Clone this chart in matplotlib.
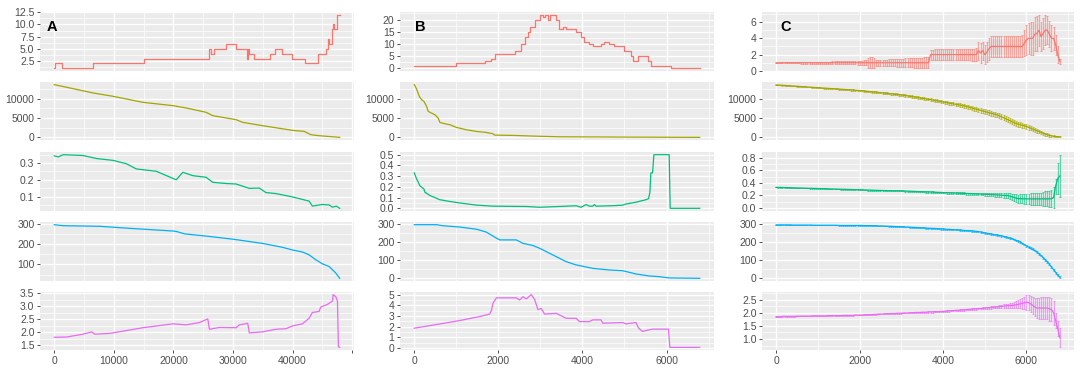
import numpy as np
import matplotlib.pyplot as plt

plt.rcParams['font.family'] = ['Liberation Sans', 'DejaVu Sans']

colors = ['#F8766D', '#A3A500', '#00BF7D', '#00B0F6', '#E76BF3']

# ---------------- panel A (x up to ~48000) ----------------
# red: step series (x where the value changes, value)
a_red_x = [0, 110, 1340, 6530, 15010, 25940, 26390, 26890, 28840, 30520, 32300, 32530,
           32750, 33590, 36210, 37040, 38220, 39890, 42120, 44350, 45690, 45910, 46140,
           46580, 46860, 47030, 47420, 47920]
a_red_y = [1, 2, 1, 2, 3, 5, 4, 5, 6, 5, 3, 5, 4, 3, 4, 5, 4, 3, 2, 4, 5, 7, 6, 9, 10, 9, 12, 12]

a_olive_x = [0, 6530, 9870, 14900, 19920, 22150, 25500, 26610, 30520, 31630, 34980, 40000,
             41950, 43070, 44460, 47920]
a_olive_y = [13620, 11470, 10600, 9050, 8190, 7590, 6470, 5600, 4570, 3880, 3020, 1810,
             1550, 690, 430, 0]

a_green_x = [0, 670, 1510, 4850, 7080, 9870, 12100, 13770, 17120, 20470, 21580, 23260,
             25490, 26610, 28840, 30520, 32750, 34420, 35530, 37200, 38320, 39990, 42780,
             43340, 44990, 46160, 46700, 47370, 47920]
a_green_y = [0.343, 0.337, 0.35, 0.345, 0.327, 0.316, 0.296, 0.265, 0.251, 0.20, 0.245,
             0.225, 0.215, 0.185, 0.178, 0.175, 0.149, 0.151, 0.124, 0.118, 0.11, 0.098,
             0.073, 0.043, 0.053, 0.05, 0.037, 0.043, 0.03]

a_blue_x = [0, 1510, 7640, 13220, 19920, 20470, 21860, 25490, 29960, 34980, 38320, 40000,
            41670, 42790, 43900, 45020, 46140, 47250, 47920]
a_blue_y = [295, 290, 287, 276, 264, 262, 250, 239, 224, 203, 184, 171, 161, 147, 123,
            103, 90, 58, 32]

a_mag_x = [0, 2060, 4850, 6250, 6810, 9320, 14900, 19920, 22150, 24380, 25770, 26050,
           27730, 30520, 31070, 32470, 32750, 34980, 37200, 38880, 39990, 41670, 42790,
           43340, 44460, 44730, 45850, 46700, 46810, 47260, 47540, 47700, 47920]
a_mag_y = [1.80, 1.81, 1.92, 2.01, 1.92, 1.95, 2.17, 2.32, 2.28, 2.37, 2.51, 2.11, 2.18,
           2.17, 2.28, 2.34, 1.97, 2.01, 2.11, 2.13, 2.24, 2.32, 2.54, 2.76, 2.80, 2.97,
           3.07, 3.20, 3.45, 3.37, 3.20, 1.43, 1.41]

# ---------------- panel B (x up to ~6800) ----------------
b_red_x = [0, 1004, 1676, 1834, 1913, 2387, 2545, 2624, 2703, 2759, 2862, 2980, 3059,
           3099, 3178, 3217, 3375, 3454, 3534, 3613, 3850, 3968, 4047, 4166, 4245, 4443,
           4522, 4640, 4759, 4996, 5154, 5210, 5312, 5549, 5628, 6103, 6790]
b_red_y = [1, 2, 3, 4, 6, 7, 10, 13, 15, 17, 20, 22, 21, 22, 20, 22, 20, 16, 17, 16, 15,
           13, 11, 10, 9, 10, 11, 10, 9, 7, 5, 3, 5, 3, 1, 0, 0]

b_olive_x = [0, 55, 119, 174, 229, 292, 332, 411, 490, 569, 609, 727, 846, 1004, 1241,
             1478, 1715, 1873, 1913, 2348, 2822, 3454, 5035, 6790]
b_olive_y = [13620, 12500, 10600, 9740, 9310, 8020, 6720, 6290, 5860, 5000, 3880, 3530,
             3280, 2590, 1980, 1550, 1290, 950, 600, 520, 350, 170, 90, 20]

b_green_x = [0, 55, 134, 229, 253, 372, 609, 846, 1083, 1478, 1873, 2664, 2980, 3454,
             3850, 3968, 4087, 4166, 4245, 4285, 4324, 4719, 4957, 5035, 5273, 5510, 5573,
             5605, 5628, 5668, 5700, 6063, 6087, 6790]
b_green_y = [0.33, 0.275, 0.21, 0.18, 0.15, 0.12, 0.08, 0.064, 0.05, 0.03, 0.02, 0.017,
             0.01, 0.017, 0.024, 0.01, 0.035, 0.02, 0.02, 0.035, 0.02, 0.024, 0.03, 0.04,
             0.057, 0.08, 0.09, 0.15, 0.33, 0.33, 0.50, 0.50, 0.0, 0.0]

b_blue_x = [0, 530, 688, 1083, 1478, 1715, 1953, 2032, 2427, 2585, 2822, 2980, 3296, 3613,
            3850, 4245, 4640, 4957, 5273, 5589, 5826, 6063, 6790]
b_blue_y = [296, 296, 290, 283, 271, 255, 222, 212, 212, 193, 181, 166, 129, 92, 74, 55,
            46, 42, 24, 13, 9, 2, 0]

b_mag_x = [0, 688, 1083, 1557, 1794, 1834, 1873, 1953, 2427, 2506, 2585, 2664, 2783, 2862,
           2941, 3020, 3099, 3375, 3534, 3613, 3850, 3929, 4166, 4245, 4443, 4482, 4957,
           5035, 5273, 5336, 5431, 5589, 5668, 6047, 6079, 6790]
b_mag_y = [1.85, 2.3, 2.57, 2.94, 3.18, 3.5, 4.2, 4.7, 4.7, 4.5, 4.8, 4.6, 5.0, 4.55, 3.6,
           3.7, 3.18, 3.24, 2.94, 2.78, 2.78, 2.47, 2.47, 2.63, 2.63, 2.32, 2.38, 2.26,
           2.38, 1.85, 1.55, 1.7, 1.76, 1.76, 0.05, 0.05]

# ---------------- panel C: mean and error every 50 steps ----------------
c_step = 50
c_red_mean = [
    1, 1, 1, 1, 1, 1, 1, 1, 1, 1, 1, 1, 1, 1, 1, 1, 1, 1, 1, 1,
    1, 1, 1, 1, 1, 1, 1, 1, 1, 1, 1, 1, 1, 1, 1, 1, 1, 1, 1, 1,
    1, 1, 1, 1, 1, 1, 1, 1, 1, 1, 1, 1, 1, 1, 1, 1, 1, 1, 1, 1,
    1, 1, 1, 1, 1, 1, 1, 1, 1, 1, 1, 1, 1, 1, 2, 2, 2, 2, 2, 2,
    2, 2, 2, 2, 2, 2, 2, 2, 2, 2, 2, 2, 2, 2, 2, 2, 2, 2.5, 2.2, 2.5,
    2.0, 2.3, 2.7, 3, 3, 3, 3, 3, 3, 3, 3, 3, 3, 3, 3, 3, 3, 3, 3, 3.4,
    3.8, 4, 4, 4, 4.5, 4.6, 5, 4.2, 4.6, 5, 5, 4.5, 4, 4, 3.2, 2, 1.2]
c_red_err = [
    0.03, 0.03, 0.03, 0.04, 0.04, 0.05, 0.05, 0.06, 0.06, 0.07, 0.08, 0.08, 0.09, 0.09, 0.10, 0.10, 0.10, 0.11, 0.11, 0.12,
    0.12, 0.13, 0.13, 0.14, 0.14, 0.15, 0.15, 0.16, 0.16, 0.17, 0.17, 0.18, 0.18, 0.19, 0.19, 0.20, 0.20, 0.21, 0.21, 0.22,
    0.25, 0.27, 0.28, 0.30, 0.60, 0.65, 0.68, 0.62, 0.40, 0.38, 0.38, 0.38, 0.40, 0.40, 0.42, 0.42, 0.44, 0.45, 0.47, 0.50,
    0.50, 0.52, 0.53, 0.55, 0.55, 0.56, 0.58, 0.60, 0.60, 0.62, 0.63, 0.65, 0.66, 0.68, 0.60, 0.62, 0.64, 0.65, 0.65, 0.66,
    0.66, 0.66, 0.67, 0.67, 0.68, 0.68, 0.68, 0.69, 0.69, 0.70, 0.70, 0.70, 0.72, 0.72, 0.73, 0.75, 0.80, 1.10, 1.20, 1.10,
    1.20, 1.25, 1.30, 1.30, 1.28, 1.32, 1.30, 1.27, 1.33, 1.30, 1.28, 1.32, 1.30, 1.34, 1.30, 1.28, 1.32, 1.30, 1.35, 1.60,
    1.80, 1.90, 2.00, 2.00, 2.10, 2.10, 1.90, 1.80, 1.90, 1.80, 1.70, 1.60, 1.60, 1.40, 1.20, 1.00, 0.30]

c_olive_mean = [
    13620, 13590, 13550, 13510, 13480, 13440, 13400, 13370, 13330, 13290, 13260, 13220, 13180, 13150, 13110, 13080, 13040, 13000, 12970, 12930,
    12890, 12860, 12820, 12780, 12750, 12710, 12670, 12640, 12600, 12570, 12530, 12490, 12460, 12420, 12380, 12350, 12310, 12270, 12240, 12200,
    12160, 12100, 12050, 11990, 11930, 11880, 11820, 11770, 11710, 11650, 11600, 11540, 11480, 11430, 11370, 11310, 11260, 11200, 11140, 11090,
    11030, 10940, 10860, 10770, 10680, 10590, 10510, 10420, 10330, 10240, 10160, 10070, 9980, 9900, 9800, 9700, 9610, 9510, 9410, 9310,
    9200, 9100, 9000, 8900, 8800, 8700, 8600, 8500, 8400, 8300, 8190, 8040, 7880, 7730, 7580, 7420, 7270, 7120, 6980, 6840,
    6690, 6550, 6410, 6270, 6120, 5980, 5840, 5600, 5370, 5130, 4890, 4630, 4380, 4120, 3860, 3600, 3440, 3290, 3140, 2990,
    2840, 2620, 2400, 2190, 1970, 1750, 1530, 1310, 1090, 880, 690, 520, 400, 300, 230, 180, 160]
c_olive_err = [
    60, 60, 60, 60, 70, 70, 70, 70, 80, 80, 80, 80, 90, 90, 90, 90, 100, 100, 100, 100,
    110, 110, 110, 110, 120, 120, 120, 120, 130, 130, 130, 130, 140, 140, 140, 140, 150, 150, 150, 150,
    160, 160, 170, 170, 180, 180, 190, 190, 200, 200, 210, 210, 220, 220, 230, 230, 240, 240, 250, 250,
    260, 260, 270, 270, 280, 280, 290, 290, 300, 300, 310, 310, 320, 320, 330, 330, 340, 340, 350, 350,
    360, 370, 380, 390, 400, 410, 420, 430, 440, 450, 460, 470, 480, 490, 500, 510, 520, 530, 540, 550,
    560, 570, 580, 590, 600, 610, 620, 630, 640, 650, 650, 650, 650, 650, 650, 640, 630, 620, 610, 600,
    590, 580, 560, 540, 520, 500, 480, 450, 420, 390, 360, 320, 280, 240, 200, 160, 120]

c_green_mean = [
    0.330, 0.329, 0.328, 0.327, 0.326, 0.325, 0.324, 0.323, 0.322, 0.321, 0.320, 0.319, 0.318, 0.317, 0.316, 0.315, 0.314, 0.313, 0.312, 0.311,
    0.310, 0.309, 0.308, 0.307, 0.306, 0.305, 0.304, 0.303, 0.302, 0.301, 0.300, 0.299, 0.298, 0.297, 0.296, 0.295, 0.294, 0.293, 0.292, 0.291,
    0.290, 0.289, 0.288, 0.287, 0.286, 0.285, 0.284, 0.283, 0.282, 0.281, 0.280, 0.279, 0.278, 0.277, 0.276, 0.276, 0.275, 0.275, 0.274, 0.274,
    0.273, 0.272, 0.270, 0.269, 0.268, 0.266, 0.265, 0.264, 0.262, 0.261, 0.259, 0.258, 0.257, 0.255, 0.254, 0.253, 0.251, 0.250, 0.249, 0.247,
    0.246, 0.245, 0.243, 0.242, 0.241, 0.239, 0.238, 0.237, 0.235, 0.234, 0.233, 0.231, 0.230, 0.229, 0.227, 0.226, 0.225, 0.223, 0.222, 0.221,
    0.220, 0.218, 0.216, 0.214, 0.212, 0.210, 0.208, 0.206, 0.204, 0.202, 0.200, 0.198, 0.190, 0.180, 0.170, 0.160, 0.150, 0.148, 0.147, 0.146,
    0.145, 0.145, 0.145, 0.144, 0.144, 0.145, 0.145, 0.146, 0.145, 0.144, 0.145, 0.146, 0.150, 0.165, 0.350, 0.470, 0.510]
c_green_err = [
    0.003, 0.003, 0.003, 0.003, 0.003, 0.003, 0.003, 0.003, 0.003, 0.003, 0.004, 0.004, 0.004, 0.004, 0.004, 0.004, 0.004, 0.004, 0.004, 0.004,
    0.004, 0.004, 0.005, 0.005, 0.005, 0.005, 0.005, 0.005, 0.005, 0.005, 0.005, 0.005, 0.006, 0.006, 0.006, 0.006, 0.006, 0.006, 0.006, 0.006,
    0.006, 0.006, 0.006, 0.007, 0.007, 0.007, 0.007, 0.007, 0.007, 0.007, 0.008, 0.008, 0.008, 0.008, 0.008, 0.008, 0.008, 0.008, 0.008, 0.008,
    0.008, 0.008, 0.009, 0.009, 0.009, 0.009, 0.009, 0.010, 0.010, 0.010, 0.010, 0.010, 0.011, 0.011, 0.011, 0.011, 0.012, 0.012, 0.012, 0.012,
    0.012, 0.013, 0.013, 0.013, 0.014, 0.014, 0.014, 0.015, 0.015, 0.015, 0.016, 0.016, 0.017, 0.017, 0.018, 0.018, 0.019, 0.019, 0.020, 0.020,
    0.021, 0.022, 0.023, 0.024, 0.025, 0.027, 0.029, 0.031, 0.033, 0.035, 0.038, 0.041, 0.045, 0.050, 0.055, 0.060, 0.065, 0.070, 0.075, 0.078,
    0.080, 0.085, 0.090, 0.090, 0.095, 0.100, 0.100, 0.100, 0.110, 0.120, 0.120, 0.130, 0.140, 0.170, 0.120, 0.250, 0.340]

c_blue_mean = [
    296, 296, 296, 296, 296, 296, 296, 296, 295, 295, 295, 295, 295, 295, 295, 295, 295, 295, 294, 294,
    294, 294, 294, 294, 294, 294, 294, 294, 294, 294, 293, 293, 293, 293, 293, 293, 293, 293, 293, 293,
    293, 293, 292, 292, 292, 292, 291, 291, 291, 290, 290, 290, 289, 289, 288, 288, 287, 287, 286, 286,
    285, 285, 284, 284, 283, 282, 282, 281, 281, 280, 279, 279, 278, 277, 277, 276, 276, 275, 274, 273,
    273, 272, 271, 271, 270, 269, 268, 268, 267, 266, 265, 264, 264, 263, 262, 261, 260, 258, 256, 254,
    251, 249, 247, 245, 243, 241, 239, 237, 235, 232, 229, 226, 222, 219, 215, 210, 205, 200, 193, 186,
    179, 173, 166, 160, 153, 144, 135, 125, 113, 102, 90, 76, 61, 45, 30, 16, 4]
c_blue_err = [
    1, 1, 1, 1, 1, 1, 1, 1, 1, 1, 1, 1, 1, 1, 1, 1, 1, 1, 1, 1,
    1.2, 1.2, 1.2, 1.2, 1.2, 1.3, 1.3, 1.3, 1.3, 1.3, 1.4, 1.4, 1.4, 1.4, 1.4, 1.5, 1.5, 1.5, 1.5, 1.5,
    1.6, 1.6, 1.6, 1.7, 1.7, 1.7, 1.8, 1.8, 1.8, 1.9, 1.9, 1.9, 2.0, 2.0, 2.0, 2.1, 2.1, 2.1, 2.2, 2.2,
    2.2, 2.3, 2.3, 2.3, 2.4, 2.4, 2.4, 2.5, 2.5, 2.5, 2.6, 2.6, 2.6, 2.7, 2.7, 2.7, 2.8, 2.8, 2.8, 2.9,
    2.9, 3.0, 3.0, 3.0, 3.1, 3.1, 3.1, 3.2, 3.2, 3.2, 3.3, 3.3, 3.3, 3.4, 3.4, 3.4, 3.5, 3.5, 3.5, 3.6,
    3.6, 3.6, 3.7, 3.7, 3.7, 3.8, 3.8, 3.8, 3.9, 3.9, 4.0, 4.0, 4.1, 4.1, 4.2, 4.2, 4.3, 4.3, 4.4, 4.4,
    4.5, 4.6, 4.7, 4.8, 4.9, 5.0, 5.1, 5.2, 5.3, 5.4, 5.5, 5.6, 5.7, 5.8, 5.9, 6.0, 6.0]

c_mag_mean = [
    1.85, 1.85, 1.85, 1.86, 1.86, 1.86, 1.86, 1.86, 1.86, 1.86, 1.87, 1.87, 1.87, 1.87, 1.87, 1.87, 1.87, 1.88, 1.88, 1.88,
    1.88, 1.88, 1.88, 1.88, 1.88, 1.89, 1.89, 1.89, 1.89, 1.89, 1.89, 1.89, 1.90, 1.90, 1.90, 1.90, 1.90, 1.90, 1.91, 1.91,
    1.91, 1.91, 1.92, 1.92, 1.93, 1.93, 1.93, 1.94, 1.94, 1.95, 1.95, 1.95, 1.96, 1.96, 1.96, 1.97, 1.97, 1.97, 1.98, 1.98,
    1.98, 1.99, 1.99, 1.99, 2.00, 2.00, 2.00, 2.01, 2.01, 2.01, 2.02, 2.02, 2.02, 2.03, 2.03, 2.03, 2.04, 2.04, 2.04, 2.05,
    2.05, 2.06, 2.06, 2.07, 2.08, 2.08, 2.09, 2.09, 2.10, 2.11, 2.11, 2.12, 2.13, 2.13, 2.14, 2.15, 2.15, 2.16, 2.16, 2.17,
    2.18, 2.19, 2.19, 2.20, 2.21, 2.22, 2.22, 2.23, 2.24, 2.25, 2.26, 2.27, 2.27, 2.28, 2.29, 2.30, 2.32, 2.34, 2.36, 2.38,
    2.40, 2.39, 2.34, 2.28, 2.22, 2.18, 2.18, 2.18, 2.18, 2.18, 2.18, 2.15, 2.12, 2.00, 1.70, 1.40, 1.05]
c_mag_err = [
    0.005, 0.005, 0.005, 0.005, 0.005, 0.006, 0.006, 0.006, 0.006, 0.006, 0.007, 0.007, 0.007, 0.007, 0.007, 0.008, 0.008, 0.008, 0.008, 0.008,
    0.009, 0.009, 0.009, 0.009, 0.009, 0.010, 0.010, 0.010, 0.010, 0.010, 0.011, 0.011, 0.011, 0.011, 0.011, 0.012, 0.012, 0.012, 0.012, 0.012,
    0.013, 0.013, 0.013, 0.013, 0.014, 0.014, 0.014, 0.014, 0.015, 0.015, 0.015, 0.015, 0.016, 0.016, 0.016, 0.016, 0.017, 0.017, 0.017, 0.018,
    0.018, 0.018, 0.019, 0.019, 0.019, 0.020, 0.020, 0.020, 0.021, 0.021, 0.021, 0.022, 0.022, 0.022, 0.023, 0.023, 0.023, 0.024, 0.024, 0.024,
    0.025, 0.025, 0.026, 0.026, 0.027, 0.027, 0.028, 0.028, 0.029, 0.029, 0.030, 0.030, 0.031, 0.031, 0.032, 0.032, 0.033, 0.034, 0.035, 0.036,
    0.037, 0.038, 0.040, 0.042, 0.044, 0.047, 0.050, 0.055, 0.060, 0.065, 0.070, 0.080, 0.090, 0.100, 0.110, 0.130, 0.150, 0.170, 0.200, 0.220,
    0.280, 0.300, 0.300, 0.320, 0.350, 0.380, 0.400, 0.420, 0.420, 0.420, 0.430, 0.450, 0.450, 0.450, 0.300, 0.300, 0.370]

c_x = np.arange(len(c_red_mean)) * c_step

# y tick step and label format for every panel (column, row)
y_steps = [[2.5, 5000, 0.1, 100, 0.5],
           [5, 5000, 0.1, 100, 1],
           [2, 5000, 0.2, 100, 0.5]]
y_fmts = [['{:.1f}', '{:.0f}', '{:.1f}', '{:.0f}', '{:.1f}'],
          ['{:.0f}', '{:.0f}', '{:.1f}', '{:.0f}', '{:.0f}'],
          ['{:.0f}', '{:.0f}', '{:.1f}', '{:.0f}', '{:.1f}']]
x_steps = [10000, 2000, 2000]

W, H = 1084, 382
col_px = [(40, 354), (400, 714), (762, 1074)]
row_px = [(12, 71), (82, 140), (152, 211), (222, 281), (292, 350)]

fig = plt.figure(figsize=(W / 100, H / 100), dpi=100)


def expand(lo, hi):
    r = hi - lo
    return lo - 0.05 * r, hi + 0.05 * r


def ticks_in(lim, step):
    start = np.ceil(lim[0] / step - 1e-9) * step
    t = np.arange(start, lim[1] + 1e-9, step)
    return np.round(t, 6) + 0.0


def style(ax, xlim, ylim, xstep, ystep, yfmt, bottom):
    ax.set_facecolor('#EBEBEB')
    for s in ax.spines.values():
        s.set_visible(False)
    ax.set_xlim(xlim)
    ax.set_ylim(ylim)
    xt = ticks_in(xlim, xstep)
    yt = ticks_in(ylim, ystep)
    ax.set_xticks(xt)
    ax.set_yticks(yt)
    xm = ticks_in((xlim[0] - xstep / 2, xlim[1]), xstep) + xstep / 2
    ym = ticks_in((ylim[0] - ystep / 2, ylim[1]), ystep) + ystep / 2
    ax.set_xticks(xm[(xm > xlim[0]) & (xm < xlim[1])], minor=True)
    ax.set_yticks(ym[(ym > ylim[0]) & (ym < ylim[1])], minor=True)
    ax.set_yticklabels([yfmt.format(abs(v) if abs(v) < 1e-9 else v) for v in yt])
    # the last x label falls outside the panel in the original, only its tick shows
    ax.set_xticklabels(['{:.0f}'.format(abs(v) if abs(v) < 1e-9 else v)
                        if v < xlim[1] - xstep * 0.4 else '' for v in xt])
    ax.grid(which='major', color='white', lw=1.0)
    ax.grid(which='minor', color='white', lw=0.5)
    ax.set_axisbelow(True)
    ax.tick_params(which='minor', length=0)
    ax.tick_params(which='major', length=2.5, width=0.6, color='#333333',
                   labelsize=7.5, labelcolor='#4D4D4D', pad=1.5)
    if not bottom:
        ax.tick_params(axis='x', which='major', length=0, labelbottom=False)


a_series = [(a_red_x, a_red_y), (a_olive_x, a_olive_y), (a_green_x, a_green_y),
            (a_blue_x, a_blue_y), (a_mag_x, a_mag_y)]
b_series = [(b_red_x, b_red_y), (b_olive_x, b_olive_y), (b_green_x, b_green_y),
            (b_blue_x, b_blue_y), (b_mag_x, b_mag_y)]
c_series = [(c_red_mean, c_red_err), (c_olive_mean, c_olive_err),
            (c_green_mean, c_green_err), (c_blue_mean, c_blue_err),
            (c_mag_mean, c_mag_err)]

for ci in range(3):
    x0, x1 = col_px[ci]
    for ri in range(5):
        y0, y1 = row_px[ri]
        ax = fig.add_axes([x0 / W, 1 - y1 / H, (x1 - x0) / W, (y1 - y0) / H])
        col = colors[ri]
        if ci < 2:
            xs, ys = (a_series if ci == 0 else b_series)[ri]
            ds = 'steps-post' if ri == 0 else 'default'
            ax.plot(xs, ys, color=col, lw=0.9, drawstyle=ds)
            xlim = expand(0, max(xs))
            ylim = expand(min(ys), max(ys))
        else:
            m, e = c_series[ri]
            m = np.array(m, dtype=float)
            e = np.array(e, dtype=float)
            ax.errorbar(c_x, m, yerr=e, fmt='none', ecolor=col, elinewidth=0.9,
                        capsize=0.8, capthick=0.7, alpha=0.6)
            ax.plot(c_x, m, color=col, lw=0.9)
            xlim = expand(0, c_x.max())
            ylim = expand((m - e).min(), (m + e).max())
        style(ax, xlim, ylim, x_steps[ci], y_steps[ci][ri], y_fmts[ci][ri], ri == 4)

for lab, px in zip(['A', 'B', 'C'], [47, 415, 780]):
    fig.text(px / W, 1 - 27 / H, lab, fontsize=10.5, fontweight='bold',
             ha='left', va='center', color='black')

fig.savefig('out.png', dpi=100, facecolor='white')
